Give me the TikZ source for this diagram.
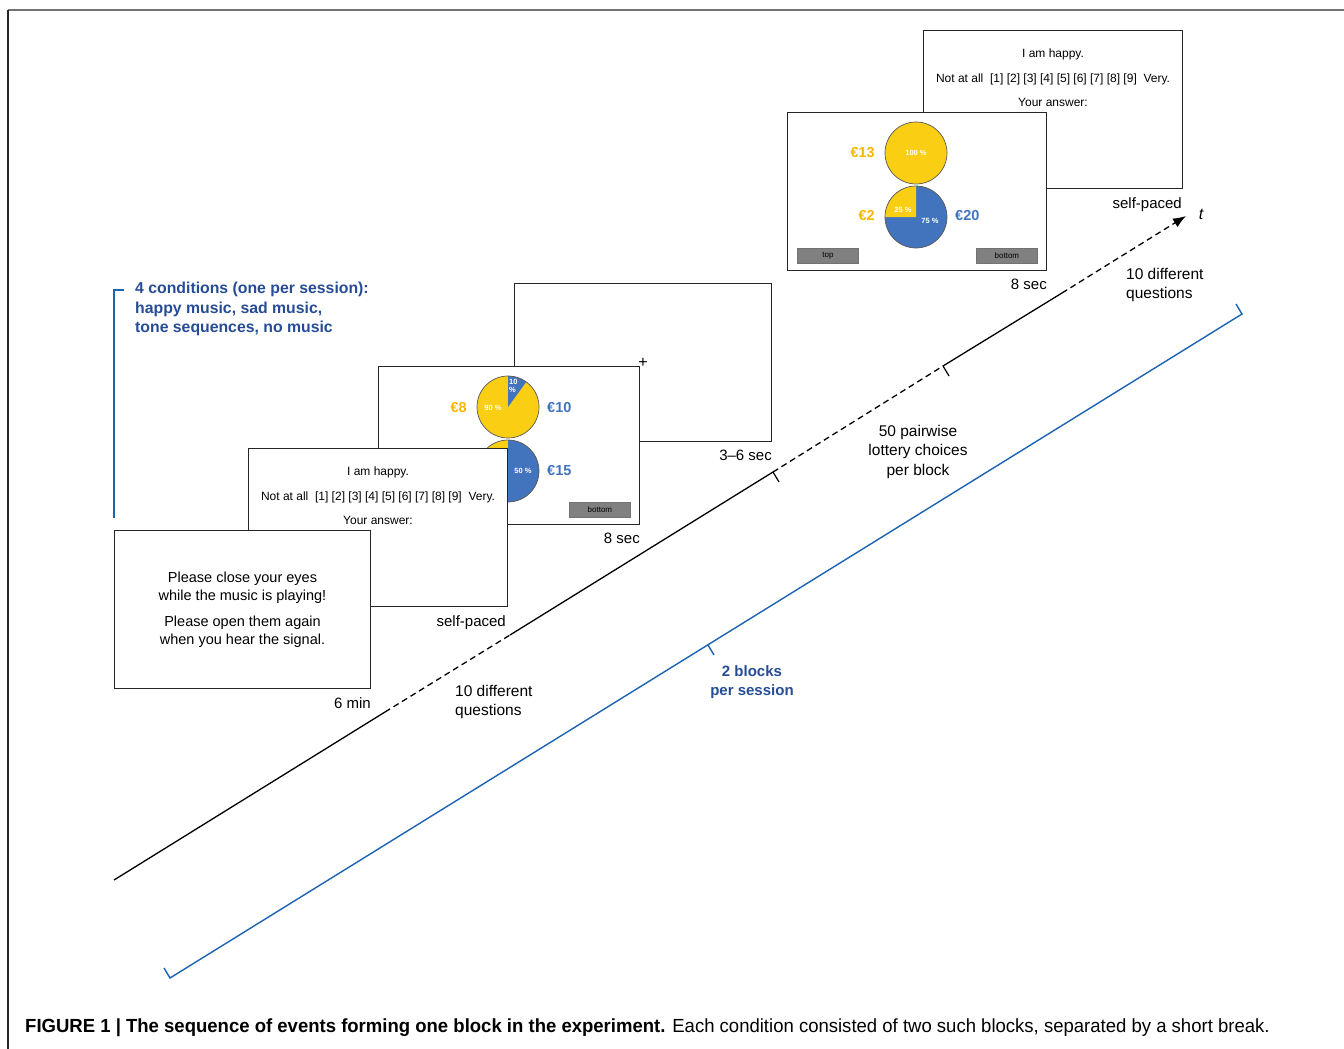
\documentclass[tikz,border=0pt]{standalone}
\usepackage{fontspec}
\setmainfont{Liberation Sans}
\newfontfamily\capfont[FakeStretch=0.975]{Liberation Sans}
\usetikzlibrary{positioning,arrows.meta}
\definecolor{pieyellow}{RGB}{250,206,18}
\definecolor{euroyellow}{RGB}{247,184,0}
\definecolor{pieblue}{RGB}{66,116,190}
\definecolor{linkblue}{RGB}{28,98,178}
\definecolor{textblue}{RGB}{38,76,150}
\definecolor{btngray}{RGB}{128,128,128}

\begin{document}
\begin{tikzpicture}[x=1pt,y=-1pt]
\tikzset{
screen/.style={draw=black!85,fill=white,line width=1pt,minimum width=#1,minimum height=158pt,anchor=north west,inner sep=0pt},
screen/.default=258pt,
dur/.style={inner sep=0pt,font={\fontsize{15}{18}\selectfont}},
remark/.style={inner sep=0pt,font={\fontsize{15.5}{19.5}\selectfont}},
rating/.style={inner sep=0pt,align=center,font={\fontsize{12}{24.5}\selectfont}},
pie/.style={circle,minimum size=62pt,inner sep=0pt},
euro/.style={inner sep=0pt,font={\fontsize{14.5}{17}\selectfont\bfseries}},
pct/.style={inner sep=0pt,text=white,align=left,font={\fontsize{7.5}{8}\selectfont\bfseries}},
button/.style={draw=black!55,fill=btngray,line width=0.8pt,minimum width=61pt,minimum height=15pt,anchor=north west,inner sep=0pt,font={\fontsize{8}{9}\selectfont}},
timeline/.style={line width=1.3pt},
dashline/.style={line width=1.3pt,dash pattern=on 6pt off 4pt},
tickmark/.style={line width=1.2pt},
bracket/.style={draw=linkblue,line width=1.4pt},
rim/.style={draw=black!65,line width=0.7pt}
}
\useasboundingbox (0,0) rectangle (1344,1049);

\draw[black!55,line width=1.5pt] (8,10) -- (1344,10);
\draw[black!85,line width=2pt] (8,10) -- (8,1049);

% last screens of the block
\node[screen=259pt] (happyA) at (923,30) {};
\node[rating,below=19pt of happyA.north] (qA) {I am happy.\\Not at all\ \ [1] [2] [3] [4] [5] [6] [7] [8] [9]\ \ Very.\\Your answer:};
\node[dur,below left=8pt and 1pt of happyA.south east] (dA) {self-paced};

\node[screen=259pt] (lotA) at (787,112) {};
\node[pie,fill=pieyellow] (pieA1) at ([shift={(129,41)}]lotA.north west) {};
\node[pie,fill=pieblue] (pieA2) at ([shift={(129,105)}]lotA.north west) {};
\fill[pieyellow] (pieA2.center) -- ++(90:31pt) arc[start angle=90,end angle=180,radius=31pt] -- cycle;
\draw[rim] (pieA1) circle[radius=31pt] (pieA2) circle[radius=31pt];
\node[pct] at (pieA1.center) {100 \%};
\node[pct] at ([shift={(-13,-7)}]pieA2.center) {25 \%};
\node[pct] at ([shift={(14,4)}]pieA2.center) {75 \%};
\node[euro,text=euroyellow,anchor=east] (eA1) at ([shift={(88,41)}]lotA.north west) {€13};
\node[euro,text=euroyellow,anchor=east] (eA2) at ([shift={(88,104)}]lotA.north west) {€2};
\node[euro,text=pieblue,anchor=west] (eA3) at ([shift={(168,104)}]lotA.north west) {€20};
\node[button] (topA) at ([shift={(10,136)}]lotA.north west) {top};
\node[button] (botA) at ([shift={(189,136)}]lotA.north west) {bottom};
\node[dur,below left=8pt and 0pt of lotA.south east] (dB) {8 sec};

% first screens of the block
\node[screen=257pt] (fix) at (514,283) {};
\node[inner sep=0pt,font={\fontsize{16}{16}\selectfont}] (cross) at (fix.center) {+};
\node[dur,below left=8pt and 0pt of fix.south east] (dC) {3–6 sec};

\node[screen=261pt] (lotB) at (378,366) {};
\node[pie,fill=pieyellow] (pieB1) at ([shift={(130,41)}]lotB.north west) {};
\node[pie,fill=pieyellow] (pieB2) at ([shift={(130,105)}]lotB.north west) {};
\fill[pieblue] (pieB1.center) -- ++(90:31pt) arc[start angle=90,end angle=54,radius=31pt] -- cycle;
\fill[pieblue] (pieB2.center) -- ++(90:31pt) arc[start angle=90,end angle=-90,radius=31pt] -- cycle;
\draw[rim] (pieB1) circle[radius=31pt] (pieB2) circle[radius=31pt];
\node[pct] at ([shift={(-15,1)}]pieB1.center) {90 \%};
\node[pct,anchor=north west] at ([shift={(1,-28)}]pieB1.center) {10\\\%};
\node[pct] at ([shift={(15,0)}]pieB2.center) {50 \%};
\node[euro,text=euroyellow,anchor=east] (eB1) at ([shift={(89,42)}]lotB.north west) {€8};
\node[euro,text=pieblue,anchor=west] (eB2) at ([shift={(169,42)}]lotB.north west) {€10};
\node[euro,text=pieblue,anchor=west] (eB3) at ([shift={(169,105)}]lotB.north west) {€15};
\node[button] (botB) at ([shift={(191,136)}]lotB.north west) {bottom};
\node[dur,below left=8pt and 0pt of lotB.south east] (dD) {8 sec};

\node[screen=259pt] (happyB) at (248,448) {};
\node[rating,below=19pt of happyB.north] (qB) {I am happy.\\Not at all\ \ [1] [2] [3] [4] [5] [6] [7] [8] [9]\ \ Very.\\Your answer:};
\node[dur,below left=8pt and 2pt of happyB.south east] (dE) {self-paced};

\node[screen=256pt] (instr) at (114,530) {};
\node[inner sep=0pt,align=center,font={\fontsize{14.5}{18}\selectfont}] (instrtext) at (instr.center) {Please close your eyes\\while the music is playing!\\[8pt]Please open them again\\when you hear the signal.};
\node[dur,below left=8pt and 0pt of instr.south east] (dF) {6 min};

% time axis
\coordinate (t0) at (114,880);
\coordinate (t1) at (385,712);
\coordinate (t2) at (510,635);
\coordinate (t3) at (773,472);
\coordinate (t4) at (943,366);
\coordinate (t5) at (1062,293);
\coordinate (t6) at (1186,216);

\path
 (t0) edge[timeline] (t1)
 (t1) edge[dashline] (t2)
 (t2) edge[timeline] (t3)
 (t3) edge[dashline] (t4)
 (t4) edge[timeline] (t5)
 (t5) edge[dashline,-{Latex[length=13pt,width=10pt]}] (t6)
 (t3) edge[tickmark] ++(6,10)
 (t4) edge[tickmark] ++(6,10)
;
\node[inner sep=0pt,font={\fontsize{16}{16}\selectfont\itshape}] (tlabel) at (1201,214) {t};

\node[remark,anchor=north west,align=left] (qsB) at (455,685) {10 different\\questions};
\node[remark,anchor=north west,align=left] (qsA) at (1126,268) {10 different\\questions};
\node[remark,anchor=north,align=center] (lots) at (918,425) {50 pairwise\\lottery choices\\per block};

% session brackets
\coordinate (b0) at (170,978);
\coordinate (b1) at (708,645);
\coordinate (b2) at (1242,314);
\draw[bracket] ([shift={(-6,-10)}]b0) -- (b0) -- (b2) -- ++(-6,-10);
\draw[bracket] (b1) -- ++(6,10);
\node[remark,anchor=north,align=center,text=textblue,font={\fontsize{15}{19.5}\selectfont\bfseries}] (blocks) at (752,665) {2 blocks\\per session};

\coordinate (c0) at (124,290);
\coordinate (c1) at (114,290);
\coordinate (c2) at (114,518);
\draw[bracket] (c0) -- (c1) -- (c2);
\node[inner sep=0pt,anchor=north west,align=left,text=textblue,font={\fontsize{15.8}{19.5}\selectfont\bfseries}] (cond) at (135,282) {4 conditions (one per session):\\happy music, sad music,\\tone sequences, no music};

\node[inner sep=0pt,anchor=west,font={\capfont\fontsize{19}{22}\selectfont}] (caption) at (25,1028) {\textbf{FIGURE 1 | The sequence of events forming one block in the experiment.} Each condition consisted of two such blocks, separated by a short break.};
\end{tikzpicture}
\end{document}
